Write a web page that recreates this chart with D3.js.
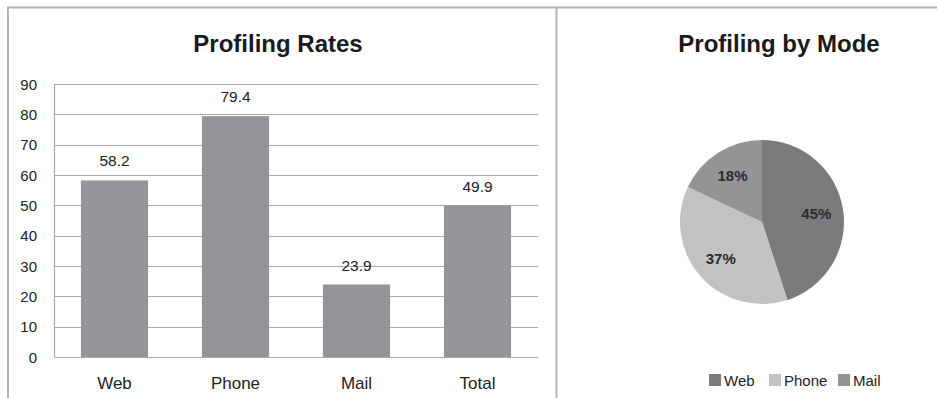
<!DOCTYPE html>
<html>
<head>
<style>
  body, html { margin: 0; padding: 0; background: #fff; }
  svg { display: block; font-family: "Liberation Sans", Arial, sans-serif; }
</style>
</head>
<body>
<svg id="svg" width="937" height="398"></svg>
<script src="https://d3js.org/d3.v7.min.js"></script>
<script>
const categories = ['Web', 'Phone', 'Mail', 'Total']
const rates = [58.2, 79.4, 23.9, 49.9]
const yTicks = [0, 10, 20, 30, 40, 50, 60, 70, 80, 90]
const modes = ['Web', 'Phone', 'Mail']
const modeShares = [45, 37, 18]
const modeColors = ['#7b7b7d', '#c2c2c4', '#949496']

const svg = d3.select('#svg')

// panel frame
svg.append('path')
  .attr('d', 'M8,398 V7.5 H937 M556.5,7.5 V398')
  .attr('fill', 'none')
  .attr('stroke', '#b4b4b4')
  .attr('stroke-width', 2)

// bar chart
const x = d3.scaleBand().domain(categories).range([54, 538]).paddingInner(0.445).paddingOuter(0.2225)
const y = d3.scaleLinear().domain([0, 90]).range([357, 84])

svg.append('text')
  .attr('x', 278).attr('y', 52)
  .attr('text-anchor', 'middle')
  .attr('font-size', 24).attr('font-weight', 'bold').attr('fill', '#1a1a1a')
  .text('Profiling Rates')

svg.append('g').selectAll('line')
  .data(yTicks)
  .join('line')
  .attr('x1', 54).attr('x2', 538)
  .attr('y1', d => Math.round(y(d)) + 0.5).attr('y2', d => Math.round(y(d)) + 0.5)
  .attr('stroke', '#a9a9a9').attr('stroke-width', 1.2)

svg.append('line')
  .attr('x1', 54.5).attr('x2', 54.5).attr('y1', y(90)).attr('y2', y(0))
  .attr('stroke', '#a9a9a9').attr('stroke-width', 1.2)

svg.append('g').selectAll('text')
  .data(yTicks)
  .join('text')
  .attr('x', 37).attr('y', d => y(d) + 5.5)
  .attr('text-anchor', 'end')
  .attr('font-size', 15).attr('fill', '#222')
  .text(d => d)

svg.append('g').selectAll('rect')
  .data(rates)
  .join('rect')
  .attr('x', (d, i) => x(categories[i]))
  .attr('width', x.bandwidth())
  .attr('y', d => y(d))
  .attr('height', d => y(0) - y(d))
  .attr('fill', '#939598')

svg.append('g').selectAll('text')
  .data(rates)
  .join('text')
  .attr('x', (d, i) => x(categories[i]) + x.bandwidth() / 2)
  .attr('y', d => y(d) - 14)
  .attr('text-anchor', 'middle')
  .attr('font-size', 15.5).attr('fill', '#222')
  .text(d => d.toFixed(1))

svg.append('g').selectAll('text')
  .data(categories)
  .join('text')
  .attr('x', d => x(d) + x.bandwidth() / 2)
  .attr('y', 389)
  .attr('text-anchor', 'middle')
  .attr('font-size', 17).attr('fill', '#222')
  .text(d => d)

// pie chart
svg.append('text')
  .attr('x', 779).attr('y', 52)
  .attr('text-anchor', 'middle')
  .attr('font-size', 24).attr('font-weight', 'bold').attr('fill', '#1a1a1a')
  .text('Profiling by Mode')

const pie = d3.pie().sort(null)
const arcs = pie(modeShares)
const arc = d3.arc().innerRadius(0).outerRadius(82)
const labelArc = d3.arc().innerRadius(55).outerRadius(55)

const pg = svg.append('g').attr('transform', 'translate(762,222)')
pg.selectAll('path')
  .data(arcs)
  .join('path')
  .attr('d', arc)
  .attr('fill', (d, i) => modeColors[i])

pg.selectAll('text')
  .data(arcs)
  .join('text')
  .attr('transform', d => `translate(${labelArc.centroid(d)})`)
  .attr('text-anchor', 'middle')
  .attr('dy', '0.35em')
  .attr('font-size', 15).attr('font-weight', 'bold').attr('fill', '#2b2b2b')
  .text(d => d.data + '%')

// legend
const legendX = [709, 769, 838]
const lg = svg.append('g').selectAll('g')
  .data(modes)
  .join('g')
  .attr('transform', (d, i) => `translate(${legendX[i]},374)`)
lg.append('rect').attr('width', 12).attr('height', 12).attr('fill', (d, i) => modeColors[i])
lg.append('text').attr('x', 15).attr('y', 11.5)
  .attr('font-size', 15).attr('fill', '#222')
  .text(d => d)
</script>
</body>
</html>
